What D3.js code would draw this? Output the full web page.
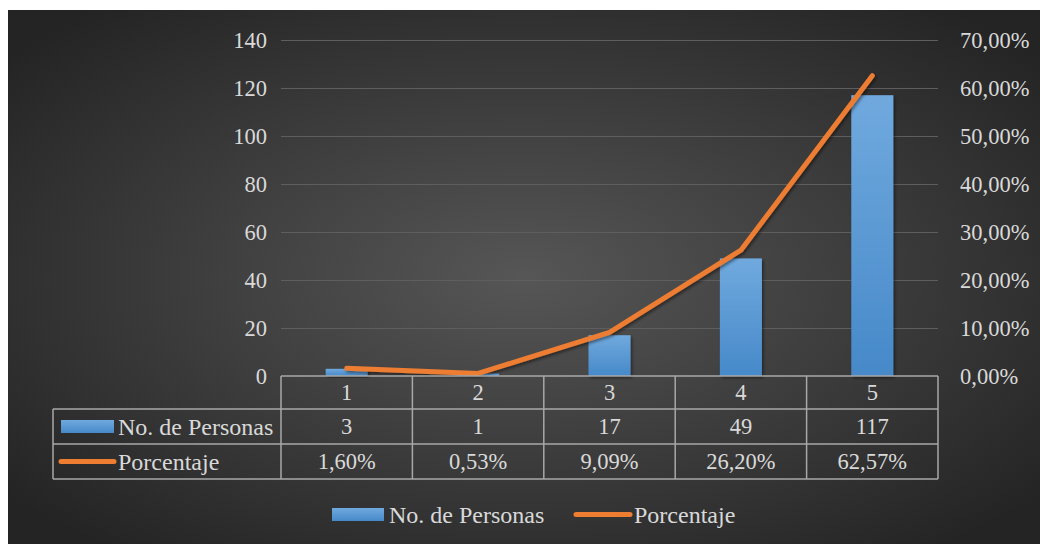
<!DOCTYPE html>
<html>
<head>
<meta charset="utf-8">
<script src="https://cdn.jsdelivr.net/npm/d3@7"></script>
<style>
  html, body { margin: 0; padding: 0; background: #ffffff; }
  svg { display: block; }
</style>
</head>
<body>
<svg id="chart" width="1040" height="544"></svg>
<script>
// Data
const categories = ["1", "2", "3", "4", "5"];
const personas = [3, 1, 17, 49, 117];
const porcentaje = [1.60, 0.53, 9.09, 26.20, 62.57];
const leftTicks = [0, 20, 40, 60, 80, 100, 120, 140];
const rightTicks = [0, 10, 20, 30, 40, 50, 60, 70];
const seriesNames = ["No. de Personas", "Porcentaje"];

(function draw() {
  const W = 1040, H = 544;
  const FONT = "'Liberation Serif', 'Times New Roman', serif";
  const TEXT_COLOR = "#d9d9d9";
  const numSize = 22.5, wordSize = 24;

  const svg = d3.select("#chart");
  const defs = svg.append("defs");

  // background radial gradient
  const bg = defs.append("radialGradient").attr("id", "bg")
    .attr("cx", "50%").attr("cy", "50%").attr("r", "65%");
  bg.append("stop").attr("offset", "0%").attr("stop-color", "#565656");
  bg.append("stop").attr("offset", "100%").attr("stop-color", "#242424");

  const barGrad = defs.append("linearGradient").attr("id", "barGrad")
    .attr("x1", 0).attr("y1", 0).attr("x2", 0).attr("y2", 1);
  barGrad.append("stop").attr("offset", "0%").attr("stop-color", "#70a9de");
  barGrad.append("stop").attr("offset", "100%").attr("stop-color", "#4689c9");

  const shadow = defs.append("filter").attr("id", "shadow")
    .attr("x", "-10%").attr("y", "-10%").attr("width", "130%").attr("height", "130%");
  shadow.append("feDropShadow").attr("dx", 1.5).attr("dy", 2).attr("stdDeviation", 1.5)
    .attr("flood-color", "#000").attr("flood-opacity", 0.45);

  svg.append("rect").attr("x", 8).attr("y", 10).attr("width", W - 8).attr("height", H - 10)
    .attr("fill", "url(#bg)");

  const styleText = sel => sel
    .style("font-family", FONT)
    .style("fill", TEXT_COLOR);

  // plot geometry
  const pLeft = 281, pRight = 938, pTop = 40, pBottom = 376;
  const x = d3.scaleBand().domain(categories).range([pLeft, pRight]).padding(0);
  const yL = d3.scaleLinear().domain([0, 140]).range([pBottom, pTop]);
  const yR = d3.scaleLinear().domain([0, 70]).range([pBottom, pTop]);

  const locale = d3.formatLocale({ decimal: ",", thousands: ".", grouping: [3], currency: ["", ""] });
  const pctFmt = v => locale.format(".2f")(v) + "%";

  // gridlines
  svg.append("g").selectAll("line").data(leftTicks.filter(d => d > 0)).join("line")
    .attr("x1", pLeft).attr("x2", pRight)
    .attr("y1", d => yL(d) + 0.5).attr("y2", d => yL(d) + 0.5)
    .attr("stroke", "#5e5e5e").attr("stroke-width", 1);

  // left axis labels
  const axL = d3.axisLeft(yL).tickValues(leftTicks).tickSize(0).tickPadding(14);
  svg.append("g").attr("transform", `translate(${pLeft},0)`).call(axL)
    .call(g => g.select(".domain").remove())
    .call(g => g.selectAll("text").style("font-size", numSize + "px").call(styleText));

  // right axis labels
  const axR = d3.axisRight(yR).tickValues(rightTicks).tickSize(0).tickPadding(22)
    .tickFormat(pctFmt);
  svg.append("g").attr("transform", `translate(${pRight},0)`).call(axR)
    .call(g => g.select(".domain").remove())
    .call(g => g.selectAll("text").style("font-size", numSize + "px").call(styleText));

  // bars
  const bw = x.bandwidth() * 0.32;
  svg.append("g").selectAll("rect").data(personas).join("rect")
    .attr("x", (d, i) => x(categories[i]) + x.bandwidth() / 2 - bw / 2)
    .attr("y", d => yL(d))
    .attr("width", bw)
    .attr("height", d => pBottom - yL(d))
    .attr("fill", "url(#barGrad)")
    .attr("filter", "url(#shadow)");

  // line
  const line = d3.line()
    .x((d, i) => x(categories[i]) + x.bandwidth() / 2)
    .y(d => yR(d));
  svg.append("path").datum(porcentaje)
    .attr("d", line)
    .attr("fill", "none")
    .attr("stroke", "#ed7d31")
    .attr("stroke-width", 5)
    .attr("stroke-linecap", "round")
    .attr("stroke-linejoin", "round")
    .attr("filter", "url(#shadow)");

  // data table
  const tableLeft = 53;
  const rowY = [376, 409, 444, 479];
  const gridColor = "#a8a8a8";
  const tbl = svg.append("g");

  tbl.append("line").attr("x1", pLeft).attr("x2", pRight).attr("y1", rowY[0]).attr("y2", rowY[0])
    .attr("stroke", gridColor).attr("stroke-width", 1.5);
  [1, 2, 3].forEach(k => {
    tbl.append("line").attr("x1", tableLeft).attr("x2", pRight).attr("y1", rowY[k]).attr("y2", rowY[k])
      .attr("stroke", gridColor).attr("stroke-width", 1.5);
  });
  const colEdges = categories.map(c => x(c)).concat([pRight]);
  colEdges.forEach(cx => {
    tbl.append("line").attr("x1", cx).attr("x2", cx).attr("y1", rowY[0]).attr("y2", rowY[3])
      .attr("stroke", gridColor).attr("stroke-width", 1.5);
  });
  tbl.append("line").attr("x1", tableLeft).attr("x2", tableLeft).attr("y1", rowY[1]).attr("y2", rowY[3])
    .attr("stroke", gridColor).attr("stroke-width", 1.5);

  // cell texts
  const rows = [categories, personas.map(String), porcentaje.map(pctFmt)];
  rows.forEach((vals, r) => {
    tbl.append("g").selectAll("text").data(vals).join("text")
      .attr("x", (d, i) => x(categories[i]) + x.bandwidth() / 2)
      .attr("y", (rowY[r] + rowY[r + 1]) / 2)
      .attr("dy", "0.35em")
      .attr("text-anchor", "middle")
      .style("font-size", numSize + "px")
      .call(styleText)
      .text(d => d);
  });

  // row headers with legend keys
  const rh1 = (rowY[1] + rowY[2]) / 2, rh2 = (rowY[2] + rowY[3]) / 2;
  tbl.append("rect").attr("x", 61).attr("y", rh1 - 6.5).attr("width", 53).attr("height", 13)
    .attr("fill", "url(#barGrad)");
  tbl.append("text").attr("x", 118).attr("y", rh1).attr("dy", "0.35em")
    .style("font-size", wordSize + "px").call(styleText).text(seriesNames[0]);
  tbl.append("line").attr("x1", 61).attr("x2", 114).attr("y1", rh2).attr("y2", rh2)
    .attr("stroke", "#ed7d31").attr("stroke-width", 5).attr("stroke-linecap", "round");
  tbl.append("text").attr("x", 118).attr("y", rh2).attr("dy", "0.35em")
    .style("font-size", wordSize + "px").call(styleText).text(seriesNames[1]);

  // bottom legend
  const ly = 514.5;
  const lg = svg.append("g");
  lg.append("rect").attr("x", 332).attr("y", ly - 6.5).attr("width", 52).attr("height", 13)
    .attr("fill", "url(#barGrad)");
  lg.append("text").attr("x", 389).attr("y", ly).attr("dy", "0.35em")
    .style("font-size", wordSize + "px").call(styleText).text(seriesNames[0]);
  lg.append("line").attr("x1", 576).attr("x2", 630).attr("y1", ly).attr("y2", ly)
    .attr("stroke", "#ed7d31").attr("stroke-width", 5).attr("stroke-linecap", "round");
  lg.append("text").attr("x", 634).attr("y", ly).attr("dy", "0.35em")
    .style("font-size", wordSize + "px").call(styleText).text(seriesNames[1]);
})();
</script>
</body>
</html>
